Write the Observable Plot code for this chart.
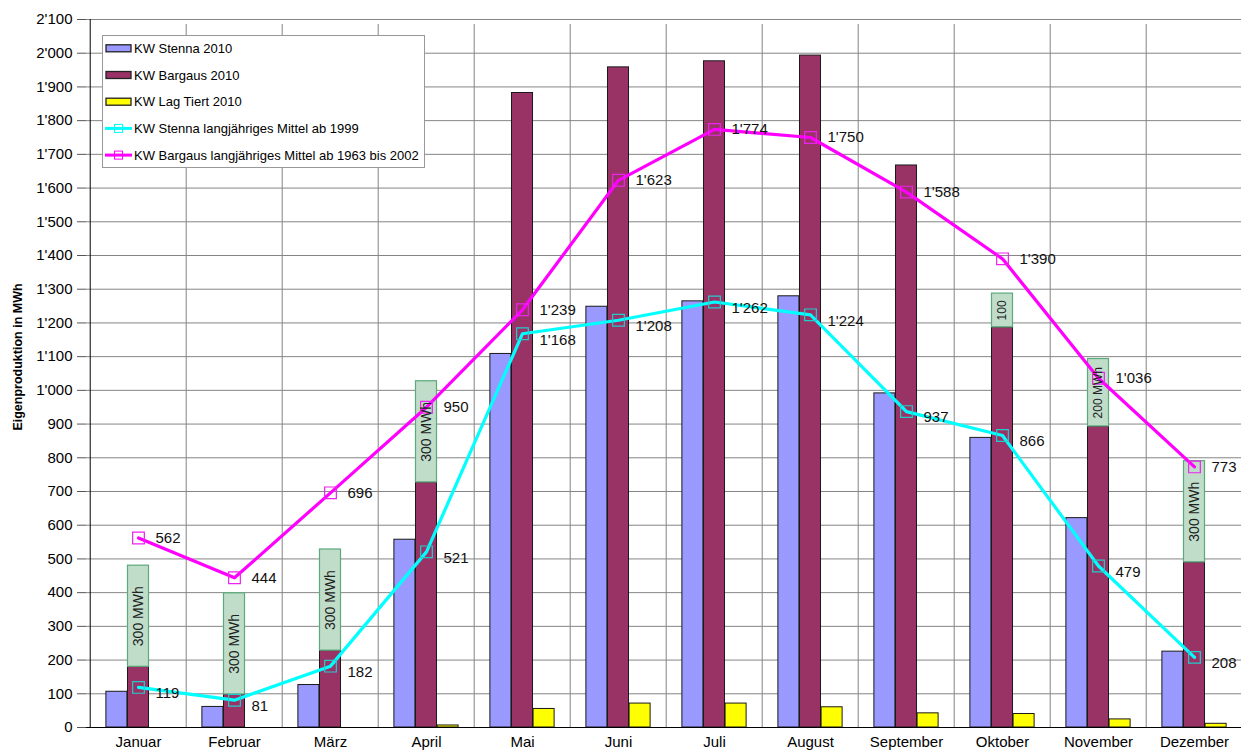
<!DOCTYPE html>
<html><head><meta charset="utf-8">
<script src="https://cdn.jsdelivr.net/npm/d3@7"></script>
<script src="https://cdn.jsdelivr.net/npm/@observablehq/plot@0.6"></script>
<style>
body{margin:0;background:#fff;font-family:"Liberation Sans",Arial,sans-serif;}
#wrap{position:relative;width:1241px;height:751px;overflow:hidden;background:#fff;}
#wrap > svg, #wrap > figure{position:absolute;left:0;top:0;margin:0;}
#overlay{position:absolute;left:0;top:0;pointer-events:none;}
</style></head><body><div id="wrap"></div>
<script>
// ---- data ----
const months = ["Januar","Februar","März","April","Mai","Juni","Juli","August","September","Oktober","November","Dezember"];
const stenna2010 = [106, 61, 126, 557, 1108, 1248, 1264, 1279, 991, 859, 621, 225];
const bargaus2010 = [180, 98, 228, 727, 1882, 1958, 1976, 1993, 1667, 1187, 893, 490];
const lagTiert2010 = [0, 0, 0, 6, 55, 71, 71, 60, 42, 40, 24, 11];
const stennaMean = [119, 81, 182, 521, 1168, 1208, 1262, 1224, 937, 866, 479, 208];
const bargausMean = [562, 444, 696, 950, 1239, 1623, 1774, 1750, 1588, 1390, 1036, 773];
const bargausExtra = [300, 300, 300, 300, 0, 0, 0, 0, 0, 100, 200, 300];
const bargausExtraLabels = ["300 MWh","300 MWh","300 MWh","300 MWh","","","","","","100","200 MWh","300 MWh"];
const yTicks = d3.range(0, 2200, 100);
const seriesNames = ["KW Stenna 2010","KW Bargaus 2010","KW Lag Tiert 2010","KW Stenna langjähriges Mittel ab 1999","KW Bargaus langjähriges Mittel ab 1963 bis 2002"];
const seriesColors = ["#9999ff","#993366","#ffff00","#00ffff","#ff00ff"];
const seriesKinds = ["bar","bar","bar","line","line"];
const yLabel = "Eigenproduktion in MWh";

// ---- build ----
const rows = months.map((m, i) => ({
  month: m, stenna: stenna2010[i], bargaus: bargaus2010[i], lag: lagTiert2010[i],
  stennaMean: stennaMean[i], bargausMean: bargausMean[i],
  extra: bargausExtra[i], extraLabel: bargausExtraLabels[i]
}));
const extras = rows.filter(d => d.extra > 0);
const fmt = d3.formatLocale({decimal: ".", thousands: "'", grouping: [3], currency: ["", ""]}).format(",d");

const x0 = 86, x1 = 1245;
const bandW = (x1 - x0) / months.length;
const barW = 21.6;
const mid = (bandW - barW) / 2;
const grid = "#858585";
const barStroke = "#1a1a1a";

const chart = Plot.plot({
  width: 1241, height: 751,
  marginLeft: 86, marginRight: 0, marginTop: 19, marginBottom: 24,
  style: {fontFamily: "'Liberation Sans', Arial, sans-serif", fontSize: "15px", color: "#000", background: "#fff"},
  x: {domain: months, range: [x0, x1], padding: 0, label: null},
  y: {domain: [0, 2100], range: [727, 19], label: null},
  marks: [
    Plot.ruleY(yTicks, {stroke: grid, strokeWidth: 1}),
    Plot.ruleX(months.slice(1), {x: d => d, y1: 0, y2: 2100, dx: -bandW / 2, stroke: grid, insetBottom: -5}),
    Plot.barY(rows, {x: "month", y: "stenna", fill: seriesColors[0], stroke: barStroke, strokeWidth: 1, insetLeft: mid - barW, insetRight: mid + barW}),
    Plot.barY(rows, {x: "month", y: "bargaus", fill: seriesColors[1], stroke: barStroke, strokeWidth: 1, insetLeft: mid, insetRight: mid}),
    Plot.barY(rows, {x: "month", y: "lag", fill: seriesColors[2], stroke: barStroke, strokeWidth: 1, insetLeft: mid + barW, insetRight: mid - barW}),
    Plot.barY(extras, {x: "month", y1: "bargaus", y2: d => d.bargaus + d.extra, fill: "#c0ddca", stroke: "#5aaa7a", strokeWidth: 1.2, insetLeft: mid, insetRight: mid}),
    Plot.ruleX([months[0]], {x: d => d, y1: 0, y2: 2100, dx: -bandW / 2, stroke: "#000"}),
    Plot.ruleY([0], {stroke: "#000"}),
    Plot.line(rows, {x: "month", y: "stennaMean", stroke: seriesColors[3], strokeWidth: 3.2}),
    Plot.line(rows, {x: "month", y: "bargausMean", stroke: seriesColors[4], strokeWidth: 3.2}),
    Plot.dot(rows, {x: "month", y: "stennaMean", symbol: "square", r: 6.6, fill: "none", stroke: "#22cccc", strokeWidth: 1.2}),
    Plot.dot(rows, {x: "month", y: "bargausMean", symbol: "square", r: 6.6, fill: "none", stroke: "#ee22ee", strokeWidth: 1.2}),
    Plot.text(extras, {x: "month", y: d => d.bargaus + d.extra / 2, text: "extraLabel", rotate: -90, fontSize: d => d.extra >= 300 ? 14 : 12, fill: "#222"}),
    Plot.text(rows, {x: "month", y: "stennaMean", text: d => fmt(d.stennaMean), textAnchor: "start", dx: 17, dy: 6, fontSize: 15, fill: "#111"}),
    Plot.text(rows, {x: "month", y: "bargausMean", text: d => fmt(d.bargausMean), textAnchor: "start", dx: 17, dy: 0, fontSize: 15, fill: "#111"}),
    Plot.axisY({ticks: yTicks, tickFormat: fmt, tickSize: 9, tickPadding: 5, stroke: "#555", fontSize: 15, label: null}),
    Plot.axisX({tickSize: 0, tickPadding: 9, fontSize: 15, label: null})
  ]
});
const wrap = document.getElementById("wrap");
wrap.appendChild(chart);

// ---- overlay: y label and legend ----
const ov = d3.select(wrap).append("svg").attr("id", "overlay").attr("width", 1241).attr("height", 751);
ov.append("text").attr("transform", "translate(22,357) rotate(-90)")
  .attr("text-anchor", "middle").attr("font-family", "'Liberation Sans', Arial, sans-serif")
  .attr("font-weight", "bold").attr("font-size", 12.5).attr("fill", "#000").text(yLabel);

const lg = ov.append("g").attr("transform", "translate(102,35)");
lg.append("rect").attr("x", 0.5).attr("y", 0.5).attr("width", 322).attr("height", 132)
  .attr("fill", "#fff").attr("stroke", "#999");
seriesNames.forEach((name, i) => {
  const cy = 13.3 + i * 26.7;
  const g = lg.append("g").attr("transform", `translate(0,${cy})`);
  if (seriesKinds[i] === "bar") {
    g.append("rect").attr("x", 4).attr("y", -3.5).attr("width", 25).attr("height", 7)
      .attr("fill", seriesColors[i]).attr("stroke", "#222").attr("stroke-width", 1.3);
  } else {
    g.append("line").attr("x1", 3).attr("x2", 30).attr("y1", 0).attr("y2", 0)
      .attr("stroke", seriesColors[i]).attr("stroke-width", 3);
    g.append("rect").attr("x", 12.5).attr("y", -4).attr("width", 8).attr("height", 8)
      .attr("fill", "none").attr("stroke", seriesColors[i]).attr("stroke-width", 1);
  }
  g.append("text").attr("x", 32).attr("y", 0).attr("dy", "0.35em")
    .attr("font-family", "'Liberation Sans', Arial, sans-serif").attr("font-size", 13)
    .attr("fill", "#000").text(name);
});
</script></body></html>
